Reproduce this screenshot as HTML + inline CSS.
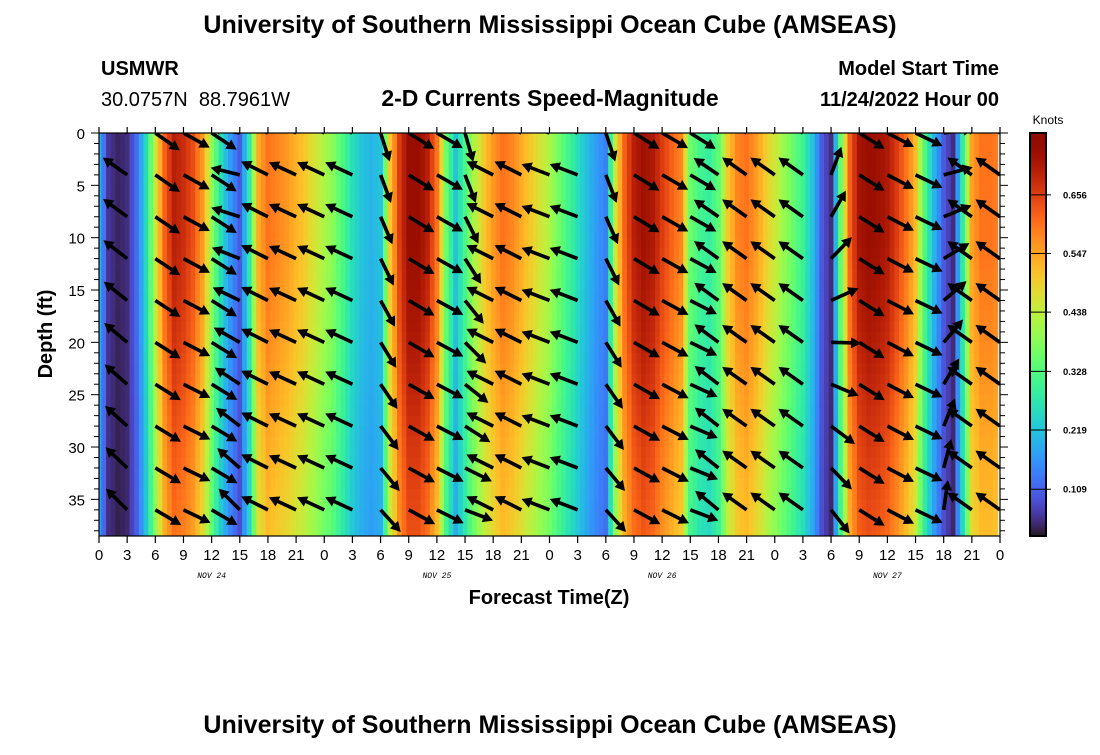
<!DOCTYPE html>
<html><head><meta charset="utf-8">
<style>
html,body{margin:0;padding:0;background:#fff;}
body{width:1100px;height:750px;overflow:hidden;font-family:"Liberation Sans",sans-serif;}
svg text{font-family:"Liberation Sans",sans-serif;}
</style></head>
<body>
<svg id="chart" width="1100" height="750">
<text x="550" y="33" text-anchor="middle" font-size="25" font-weight="bold">University of Southern Mississippi Ocean Cube (AMSEAS)</text>
<text x="101" y="75" font-size="20" font-weight="bold">USMWR</text>
<text x="101" y="106" font-size="20">30.0757N&#160;&#160;88.7961W</text>
<text x="550" y="106" text-anchor="middle" font-size="23" font-weight="bold">2-D Currents Speed-Magnitude</text>
<text x="999" y="75" text-anchor="end" font-size="20" font-weight="bold">Model Start Time</text>
<text x="999" y="106" text-anchor="end" font-size="20" font-weight="bold">11/24/2022 Hour 00</text>
<text transform="translate(52,334) rotate(-90)" text-anchor="middle" font-size="20" font-weight="bold">Depth (ft)</text>
<text x="549" y="604" text-anchor="middle" font-size="20" font-weight="bold">Forecast Time(Z)</text>
<text x="550" y="733" text-anchor="middle" font-size="25" font-weight="bold">University of Southern Mississippi Ocean Cube (AMSEAS)</text>
<text x="1048" y="124" text-anchor="middle" font-size="12">Knots</text>
<defs><clipPath id="pc"><rect x="99" y="133" width="901" height="403"/></clipPath></defs>
<g id="heat" clip-path="url(#pc)"></g>
<g id="arrows" clip-path="url(#pc)"></g>
<g id="axes"></g>
<g id="cbar"></g>
</svg>
<script>
// hourly speed (knots) at surface, hours 0..96
const hours = Array.from({length:97},(_,i)=>i);
const speed = [0.20,0.06,0.04,0.05,0.12,0.25,0.45,0.62,0.70,0.68,0.64,0.56,0.40,0.26,0.17,0.10,0.28,0.54,0.60,0.58,0.56,0.53,0.50,0.46,0.42,
0.38,0.32,0.26,0.22,0.20,0.22,0.50,0.66,0.74,0.74,0.70,0.60,0.36,0.22,0.32,0.42,0.50,0.56,0.60,0.58,0.54,0.50,0.46,
0.42,0.36,0.31,0.26,0.21,0.17,0.14,0.45,0.62,0.70,0.73,0.71,0.66,0.62,0.58,0.36,0.31,0.29,0.34,0.50,0.58,0.60,0.56,0.50,
0.45,0.40,0.35,0.30,0.22,0.10,0.05,0.35,0.62,0.72,0.74,0.73,0.71,0.66,0.60,0.52,0.32,0.20,0.10,0.05,0.28,0.55,0.60,0.60,0.58];
const depthPts = [0,10,20,30,38.5];
const depthScale = [1.0,1.0,0.96,0.9,0.86];
// vector columns: tail hour, direction at top (dx,dy) and bottom (dx,dy)
const vecHours = [3,6,9,12,15,18,21,24,27,30,33,36,39,42,45,48,51,54,57,60,63,66,69,72,75,78,81,84,87,90,93,96];
const vecTopU = [-25,24,25,24,-28,-26,-26,-26,-26,9,24,24,8,-26,-26,-26,-26,9,24,24,24,-24,-24,-24,-24,7,24,25,25,28,-24,-24];
const vecTopV = [-17,17,14,16,-5,-13,-12,-12,-12,28,15,14,28,-13,-13,-10,-10,27,15,14,15,-16,-17,-17,-17,-28,15,13,12,-4,-17,-17];
const vecBotU = [-20,24,25,24,-20,-26,-26,-26,-26,20,24,24,26,-26,-26,-26,-26,20,24,24,26,-22,-24,-24,-24,18,24,25,25,4,-24,-24];
const vecBotV = [-20,14,12,14,-20,-13,-12,-12,-12,22,13,12,10,-13,-13,-10,-10,22,13,12,10,-18,-17,-17,-17,23,15,13,12,-28,-17,-17];
const vecDepths = [0,4,8,12,16,20,24,28,32,36];
const cbTicks = [0.109,0.219,0.328,0.438,0.547,0.656];
const xTickLabels = ["0","3","6","9","12","15","18","21"];
const dayLabels = ["NOV 24","NOV 25","NOV 26","NOV 27"];

const NS="http://www.w3.org/2000/svg";
const X0=99,X1=1000,Y0=133,Y1=536,HMAX=96,DMAX=38.5,VMIN=0.022,VMAX=0.771;
const xs=h=>X0+(X1-X0)*h/HMAX;
const ys=d=>Y0+(Y1-Y0)*d/DMAX;
function turbo(t){t=Math.max(0,Math.min(1,t));
 const r=34.61+t*(1172.33-t*(10793.56-t*(33300.12-t*(38394.49-t*14825.05))));
 const g=23.31+t*(557.33+t*(1225.33-t*(3574.96-t*(1073.77+t*707.56))));
 const b=27.2+t*(3211.1-t*(15327.97-t*(27814-t*(22569.18-t*6838.66))));
 const c=v=>Math.max(0,Math.min(255,Math.round(v)));return `rgb(${c(r)},${c(g)},${c(b)})`;}
const cmap=v=>turbo((v-VMIN)/(VMAX-VMIN));
function el(tag,at,parent){const e=document.createElementNS(NS,tag);for(const k in at)e.setAttribute(k,at[k]);parent.appendChild(e);return e;}
function dscale(d){for(let i=0;i<depthPts.length-1;i++){if(d<=depthPts[i+1]){const f=(d-depthPts[i])/(depthPts[i+1]-depthPts[i]);return depthScale[i]+f*(depthScale[i+1]-depthScale[i]);}}return depthScale[depthScale.length-1];}
const heat=document.getElementById('heat');
const sub=2;
for(let i=0;i<hours.length-1;i++){
 for(let s=0;s<sub;s++){
  const f=s/sub, h=hours[i]+f;
  const v0=speed[i]+(speed[i+1]-speed[i])*f;
  for(let d=0;d<DMAX;d+=1){
   const r=el('rect',{x:xs(h-0.25).toFixed(2),y:ys(d).toFixed(2),width:(xs(0.5)-X0+0.6).toFixed(2),height:(ys(1)-Y0+0.6).toFixed(2),fill:cmap(v0*dscale(d+0.5))},heat);
   
   
  }
 }
}
const ar=document.getElementById('arrows');
vecHours.forEach((h,k)=>{
 vecDepths.forEach(d=>{
  const f=d/36;
  let u=vecTopU[k]+(vecBotU[k]-vecTopU[k])*f, v=vecTopV[k]+(vecBotV[k]-vecTopV[k])*f;
  const L=Math.hypot(u,v), len=30; u=u/L*len; v=v/L*len;
  const x0=xs(h), y0=ys(d), x1=x0+u, y1=y0+v;
  const ux=u/len, uy=v/len;
  const g=el('g',{},ar);
  
  
  el('line',{x1:x0,y1:y0,x2:x1-ux*6,y2:y1-uy*6,stroke:'#000','stroke-width':3.6},g);
  const bx=x1-ux*10, by=y1-uy*10, px=-uy*5.5, py=ux*5.5;
  el('polygon',{points:`${x1},${y1} ${bx+px},${by+py} ${bx-px},${by-py}`,fill:'#000'},g);
 });
});
const ax=document.getElementById('axes');
el('rect',{x:X0,y:Y0,width:X1-X0,height:Y1-Y0,fill:'none',stroke:'#000','stroke-width':1.2},ax);
for(let h=0;h<=96;h+=3){const x=xs(h);
 el('line',{x1:x,y1:Y0,x2:x,y2:Y0-6,stroke:'#000','stroke-width':1.2},ax);
 el('line',{x1:x,y1:Y1,x2:x,y2:Y1+7,stroke:'#000','stroke-width':1.2},ax);
 const t=el('text',{x:x,y:Y1+24,'text-anchor':'middle','font-size':15},ax);t.textContent=xTickLabels[(h/3)%8];
 
 
}
dayLabels.forEach((s,i)=>{const t=el('text',{x:xs(12+24*i),y:Y1+42,'text-anchor':'middle','font-size':8,'font-style':'italic'},ax);t.textContent=s;t.style.fontFamily='"Liberation Mono",monospace';
 
 });
for(let d=0;d<=38;d++){const y=ys(d),m=d%5===0?8:5;
 el('line',{x1:X0,y1:y,x2:X0-m,y2:y,stroke:'#000','stroke-width':1},ax);
 el('line',{x1:X1,y1:y,x2:X1+m,y2:y,stroke:'#000','stroke-width':1},ax);
 if(d%5===0){const t=el('text',{x:X0-14,y:y+6,'text-anchor':'end','font-size':15},ax);t.textContent=d;
 
 }
}
const cb=document.getElementById('cbar');
const CX=1030,CW=16;
for(let y=Y0;y<Y1;y++){const v=VMAX-(y-Y0+0.5)/(Y1-Y0)*(VMAX-VMIN);el('rect',{x:CX,y:y,width:CW,height:1.2,fill:cmap(v)},cb);}
el('rect',{x:CX,y:Y0,width:CW,height:Y1-Y0,fill:'none',stroke:'#000','stroke-width':2},cb);
const cy=v=>Y1-(v-VMIN)/(VMAX-VMIN)*(Y1-Y0);
cbTicks.forEach(v=>{const y=cy(v);el('line',{x1:CX,y1:y,x2:CX+CW+5,y2:y,stroke:'#000','stroke-width':1},cb);
 const t=el('text',{x:CX+CW+17,y:y+3.5,'font-size':9.5,'font-weight':'bold'},cb);t.textContent=v.toFixed(3);
 
 });
</script>
</body></html>
